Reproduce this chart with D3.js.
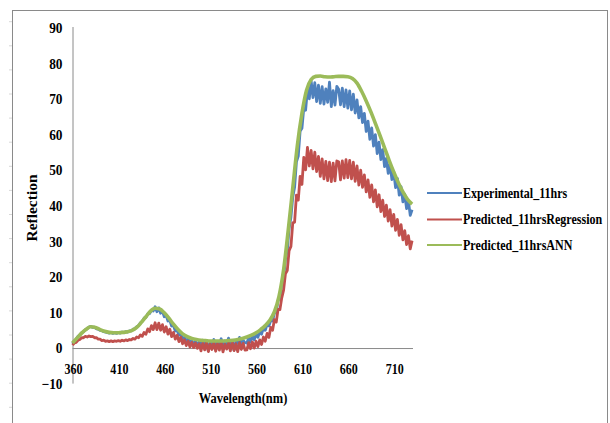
<!DOCTYPE html>
<html>
<head>
<meta charset="utf-8">
<script src="https://cdn.jsdelivr.net/npm/d3@7"></script>
<style>
  body { margin: 0; background: #fff; }
  text { font-family: "Liberation Serif", "Times New Roman", serif; font-weight: bold; fill: #000; }
</style>
</head>
<body>
<div id="chart"></div>
<script>
const width = 610;
const height = 423;

// Data.
const seriesNames = ["Experimental_11hrs", "Predicted_11hrsRegression", "Predicted_11hrsANN"];
const seriesColours = ["#4f81bd", "#c0504d", "#9bbb59"];
const xTicks = [360, 410, 460, 510, 560, 610, 660, 710];
const yTicks = [-10, 0, 10, 20, 30, 40, 50, 60, 70, 80, 90];

// measured every 2 nm, 360..730
const wavelengthMeasured = d3.range(360, 731, 2);
const experimental = [
  1.2, 2.0, 2.4, 3.3, 3.7, 4.3, 4.6, 5.2, 5.4, 5.9, 6.1, 5.8, 5.9, 5.4, 5.3, 5.0, 4.9, 4.6, 4.5, 4.3,
  4.2, 4.4, 4.1, 4.3, 4.1, 4.4, 4.2, 4.5, 4.3, 4.6, 4.5, 4.8, 4.8, 5.3, 5.4, 6.0, 6.3, 7.1, 7.5, 8.4, 8.6, 9.6, 9.7, 10.6, 10.4,
  11.6, 10.2, 11.3, 9.8, 10.4, 8.8, 9.2, 7.6, 7.8, 6.2, 6.3, 4.8, 5.0, 3.6, 3.9, 2.7, 3.0, 2.0, 2.6, 1.4, 2.1, 1.0, 1.9, 0.8, 1.8,
  1.0, 2.2, 0.6, 1.9, -0.8, 1.7, 0.9, 2.4, 0.3, 1.8, 1.1, 2.6, 0.5, 2.0, 1.2, 2.8, 0.4, 2.1, -0.6, 1.9, 1.3, 3.0, 0.7, 2.2, 1.5,
  1.4, 3.0, 1.8, 3.3, 2.3, 3.9, 3.0, 4.6, 3.9, 5.6, 5.0, 6.6, 6.2, 7.8, 7.6, 9.8, 10.2, 13.4, 14.0, 18.2, 19.4, 25.0, 27.4, 33.6, 36.8,
  42.5, 45.2, 52.4, 54.0, 61.0, 61.8, 67.5, 66.9, 72.8, 70.1, 75.2, 70.4, 74.6, 69.3, 73.9, 68.8, 73.5, 68.6, 72.9, 69.1, 74.8, 67.9, 72.4, 68.3, 73.6,
  72.8, 68.4, 73.1, 67.9, 72.6, 67.5, 72.3, 67.0, 71.4, 66.1, 69.8, 64.7, 67.9, 63.4, 66.0, 60.9, 63.8, 58.7, 61.9, 56.8, 60.0, 54.7, 57.9, 53.0, 55.8,
  51.0, 53.3, 49.1, 51.8, 47.4, 49.6, 45.1, 47.7, 43.0, 45.4, 41.1, 43.3, 39.2, 41.4, 37.3, 38.9
];
const regression = [
  0.8, 1.4, 1.6, 2.2, 2.4, 2.9, 2.9, 3.3, 3.1, 3.4, 3.2, 3.3, 2.9, 2.9, 2.5, 2.5, 2.1, 2.2, 1.9, 2.0,
  1.8, 2.0, 1.8, 2.0, 1.9, 2.1, 1.9, 2.2, 2.0, 2.3, 2.1, 2.4, 2.3, 2.7, 2.5, 3.1, 2.9, 3.7, 3.3, 4.4, 3.9, 5.4, 4.6, 6.3, 5.2,
  7.1, 5.2, 7.0, 5.0, 6.6, 4.5, 6.0, 3.9, 5.3, 3.2, 4.4, 2.5, 3.6, 1.8, 3.0, 1.2, 2.3, 0.7, 1.9, 0.3, 1.6, 0.1, 1.4, -0.1, 1.2,
  -0.8, 1.3, -0.5, 1.6, -1.0, 1.1, -0.4, 1.5, -0.9, 1.2, -0.6, 1.7, -1.1, 1.0, -0.3, 1.4, -0.8, 1.6, -0.7, 1.2, -1.0, 1.5, -0.4, 1.3, -0.6,
  -0.5, 1.5, -0.2, 1.7, 0.0, 1.9, 0.4, 2.3, 1.0, 3.1, 1.9, 4.1, 3.0, 5.8, 5.0, 8.0, 7.3, 10.9, 10.8, 14.1, 16.3, 20.9, 21.8, 27.4, 28.6,
  35.2, 35.4, 43.0, 41.6, 48.3, 46.0, 53.6, 50.1, 56.4, 51.2, 55.6, 50.4, 55.1, 49.6, 53.9, 48.3, 53.2, 47.6, 52.5, 47.1, 52.3, 46.8, 52.0, 47.0, 52.6,
  52.4, 47.3, 52.6, 47.8, 53.0, 47.9, 52.8, 47.6, 52.3, 46.9, 51.2, 45.8, 50.0, 45.2, 48.7, 43.9, 47.3, 42.4, 45.9, 41.1, 44.5, 39.7, 43.1, 38.4, 41.6,
  37.0, 40.2, 35.7, 38.9, 34.3, 37.6, 33.1, 36.2, 31.7, 34.7, 30.4, 33.0, 29.1, 31.6, 27.9, 30.2
];

// ANN prediction every 5 nm, 360..730
const wavelengthAnn = d3.range(360, 731, 5);
const ann = [
  1.4, 2.8, 4.2, 5.3, 6.0, 5.8, 5.2, 4.7, 4.4, 4.3, 4.3, 4.4, 4.6, 5.0, 5.8, 7.2, 8.8, 10.4, 11.2, 11.0,
  9.9, 8.4, 6.7, 5.2, 4.0, 3.2, 2.7, 2.4, 2.2, 2.1, 2.0, 2.0, 2.0, 2.0, 2.1, 2.2, 2.4, 2.7, 3.1, 3.6,
  4.3, 5.2, 6.3, 7.8, 10.2, 14.5, 22, 33, 45, 57, 66, 72.5, 75.5, 76.4, 76.5, 76.3, 76.2, 76.3, 76.4, 76.4,
  76.3, 75.8, 74.5, 72.2, 69.5, 66.5, 63.2, 59.8, 56.3, 52.8, 49.5, 46.5, 43.9, 41.8, 40.5
];

const series = [
  { name: seriesNames[0], colour: seriesColours[0], x: wavelengthMeasured, y: experimental, width: 2.8, curve: d3.curveLinear },
  { name: seriesNames[1], colour: seriesColours[1], x: wavelengthMeasured, y: regression, width: 2.8, curve: d3.curveLinear },
  { name: seriesNames[2], colour: seriesColours[2], x: wavelengthAnn, y: ann, width: 3.6, curve: d3.curveMonotoneX }
];

const svg = d3.select("#chart")
  .append("svg")
  .attr("width", width)
  .attr("height", height);

// chart area frame
svg.append("rect")
  .attr("x", 12.5).attr("y", 10.5)
  .attr("width", 595).attr("height", 500)
  .attr("fill", "none")
  .attr("stroke", "#8a8a8a");

// faint page marks along the edges
const marks = d3.range(21.7, 420, 24.1);
svg.append("g").attr("stroke", "#d8d8d8")
  .selectAll("line")
  .data(marks)
  .join("line")
  .attr("x1", 9).attr("x2", 12)
  .attr("y1", d => d).attr("y2", d => d);

const x = d3.scaleLinear().domain([360, 731]).range([72.5, 413]);
const y = d3.scaleLinear().domain([-10, 90]).range([383.6, 28]);

const squeeze = 0.86;

// y axis
const yAxis = svg.append("g")
  .attr("transform", `translate(${x(360)},0)`)
  .call(d3.axisLeft(y).tickValues(yTicks).tickSize(0).tickPadding(10).tickFormat(d3.format("d")));
yAxis.select(".domain").attr("stroke", "#8a8a8a").attr("d", `M0.5,${y(90) - 1}V${y(-10)}`);
yAxis.selectAll("text")
  .attr("font-size", 14.5)
  .attr("font-family", null)
  .attr("transform", "scale(0.92,1)")
  .attr("x", -10 / 0.92);

// x axis along zero line
const xAxis = svg.append("g")
  .attr("transform", `translate(0,${y(0)})`)
  .call(d3.axisBottom(x).tickValues(xTicks).tickSize(0).tickPadding(16).tickFormat(d3.format("d")));
xAxis.select(".domain").attr("stroke", "#8a8a8a").attr("d", `M${x(360)},0.5H${x(731)}`);
xAxis.selectAll(".tick text")
  .attr("font-size", 14)
  .attr("font-family", null)
  .attr("transform", `scale(${squeeze},1)`);
xAxis.selectAll(".tick")
  .attr("transform", d => `translate(${x(d) + 1},0)`);

// series lines
const line = s => d3.line()
  .x((d, i) => x(s.x[i]))
  .y(d => y(d))
  .curve(s.curve);

svg.append("g")
  .selectAll("path")
  .data(series)
  .join("path")
  .attr("fill", "none")
  .attr("stroke", d => d.colour)
  .attr("stroke-width", d => d.width)
  .attr("stroke-linejoin", "round")
  .attr("d", d => line(d)(d.y));

// axis titles
svg.append("text")
  .attr("transform", `translate(243,403) scale(${squeeze},1)`)
  .attr("text-anchor", "middle")
  .attr("font-size", 14.5)
  .text("Wavelength(nm)");

svg.append("text")
  .attr("transform", "translate(37,208) rotate(-90)")
  .attr("text-anchor", "middle")
  .attr("font-size", 15.5)
  .text("Reflection");

// legend
const legend = svg.append("g")
  .selectAll("g")
  .data(series)
  .join("g")
  .attr("transform", (d, i) => `translate(427,${[193, 219.5, 245][i]})`);

legend.append("line")
  .attr("x1", 0).attr("x2", 35)
  .attr("stroke", d => d.colour)
  .attr("stroke-width", 2);

legend.append("text")
  .attr("transform", `translate(36,4.5) scale(${squeeze},1)`)
  .attr("font-size", 14)
  .text(d => d.name);
</script>
</body>
</html>
